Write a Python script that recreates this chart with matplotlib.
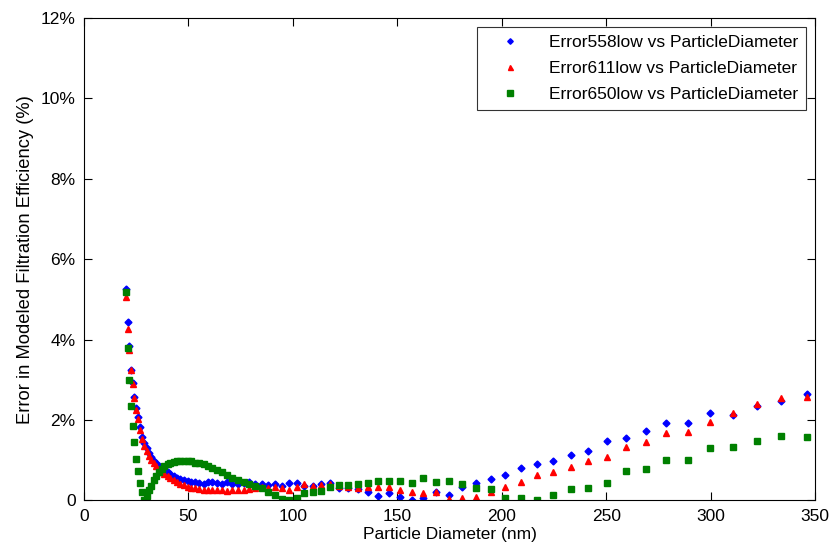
# imports
import matplotlib.pyplot as plt
from matplotlib.ticker import FixedLocator

# particle diameters (nm), SMPS channel midpoints
diameter = [20.2, 20.9, 21.7, 22.5, 23.3, 24.1, 25.0, 25.9, 26.9, 27.9,
            28.9, 30.0, 31.1, 32.2, 33.4, 34.6, 35.9, 37.2, 38.5, 40.0,
            41.4, 42.9, 44.5, 46.1, 47.8, 49.6, 51.4, 53.3, 55.2, 57.3,
            59.4, 61.5, 63.8, 66.1, 68.5, 71.0, 73.7, 76.4, 79.1, 82.0,
            85.1, 88.2, 91.4, 94.7, 98.2, 101.8, 105.5, 109.4, 113.4, 117.6,
            121.9, 126.3, 131.0, 135.8, 140.7, 145.9, 151.2, 156.8, 162.5, 168.5,
            174.7, 181.1, 187.7, 194.6, 201.7, 209.1, 216.7, 224.7, 232.9, 241.4,
            250.3, 259.5, 269.0, 278.8, 289.0, 299.6, 310.6, 322.0, 333.8, 346.0]

# error in modeled filtration efficiency (%)
error_558 = [5.27, 4.43, 3.85, 3.25, 2.92, 2.58, 2.30, 2.08, 1.82, 1.58,
             1.43, 1.30, 1.19, 1.09, 0.99, 0.92, 0.86, 0.81, 0.76, 0.71,
             0.66, 0.61, 0.57, 0.53, 0.50, 0.48, 0.46, 0.47, 0.44, 0.42,
             0.45, 0.47, 0.44, 0.42, 0.45, 0.40, 0.42, 0.44, 0.45, 0.42,
             0.40, 0.38, 0.40, 0.37, 0.43, 0.43, 0.37, 0.36, 0.40, 0.43,
             0.30, 0.30, 0.28, 0.21, 0.11, 0.18, 0.08, 0.02, 0.05, 0.21,
             0.14, 0.34, 0.43, 0.53, 0.63, 0.80, 0.91, 0.97, 1.14, 1.24,
             1.48, 1.55, 1.72, 1.93, 1.93, 2.17, 2.12, 2.36, 2.48, 2.65]

error_611 = [5.07, 4.26, 3.73, 3.25, 2.90, 2.55, 2.25, 2.02, 1.75, 1.52,
             1.35, 1.22, 1.10, 1.00, 0.92, 0.85, 0.78, 0.71, 0.65, 0.60,
             0.55, 0.50, 0.46, 0.42, 0.38, 0.34, 0.32, 0.30, 0.28, 0.27,
             0.26, 0.27, 0.25, 0.26, 0.24, 0.26, 0.25, 0.27, 0.29, 0.31,
             0.33, 0.30, 0.34, 0.30, 0.26, 0.33, 0.40, 0.36, 0.39, 0.41,
             0.36, 0.34, 0.30, 0.34, 0.33, 0.33, 0.26, 0.22, 0.18, 0.20,
             0.03, 0.05, 0.09, 0.20, 0.33, 0.47, 0.64, 0.70, 0.84, 0.98,
             1.08, 1.32, 1.46, 1.67, 1.70, 1.94, 2.17, 2.41, 2.55, 2.57]

error_650 = [5.19, 3.79, 3.00, 2.35, 1.84, 1.45, 1.03, 0.73, 0.43, 0.22,
             0.02, 0.12, 0.25, 0.36, 0.50, 0.62, 0.70, 0.79, 0.85, 0.90,
             0.93, 0.95, 0.97, 0.98, 0.99, 0.99, 0.97, 0.94, 0.92, 0.90,
             0.86, 0.82, 0.77, 0.70, 0.63, 0.57, 0.50, 0.45, 0.40, 0.35,
             0.30, 0.22, 0.14, 0.03, 0.01, 0.07, 0.18, 0.21, 0.24, 0.33,
             0.38, 0.39, 0.41, 0.44, 0.49, 0.49, 0.49, 0.43, 0.56, 0.45,
             0.49, 0.42, 0.32, 0.28, 0.07, 0.07, 0.01, 0.14, 0.28, 0.32,
             0.44, 0.73, 0.79, 1.00, 1.00, 1.31, 1.34, 1.48, 1.61, 1.58]

# tick labels
x_ticks = [0, 50, 100, 150, 200, 250, 300, 350]
y_ticks = [0, 2, 4, 6, 8, 10, 12]
y_tick_labels = ['0', '2%', '4%', '6%', '8%', '10%', '12%']

plt.rcParams['font.family'] = ['Liberation Sans', 'DejaVu Sans']
font_size = 12.5

fig = plt.figure(figsize=(8.31, 5.54), dpi=100)
ax = fig.add_axes([0.101, 0.0966, 0.880, 0.871])

# scatter series, matlab style markers
ax.plot(diameter, error_558, linestyle='none', marker='D', markersize=3.5,
        color='#0000ff', label='Error558low vs ParticleDiameter')
ax.plot(diameter, error_611, linestyle='none', marker='^', markersize=4.5,
        color='#ff0000', label='Error611low vs ParticleDiameter')
ax.plot(diameter, error_650, linestyle='none', marker='s', markersize=5,
        color='#008000', label='Error650low vs ParticleDiameter')

# axes limits and ticks
ax.set_xlim(0, 350)
ax.set_ylim(0, 12)
ax.xaxis.set_major_locator(FixedLocator(x_ticks))
ax.set_yticks(y_ticks)
ax.set_yticklabels(y_tick_labels)
ax.tick_params(direction='in', top=True, right=True, length=5.5, width=0.8,
               labelsize=font_size)
ax.tick_params(axis='x', pad=6)
ax.tick_params(axis='y', pad=6)
for spine in ax.spines.values():
    spine.set_linewidth(0.8)

# labels
ax.set_xlabel('Particle Diameter (nm)', fontsize=font_size, labelpad=2)
ax.set_ylabel('Error in Modeled Filtration Efficiency (%)', fontsize=13.2, labelpad=5)

# legend box
leg = ax.legend(loc='upper right', fontsize=font_size, frameon=True, fancybox=False,
                borderaxespad=0.55, handletextpad=0.8, handlelength=2.9,
                labelspacing=0.62, borderpad=0.45, markerscale=0.8)
leg.get_frame().set_edgecolor('black')
leg.get_frame().set_linewidth(0.8)

fig.savefig('out.png', dpi=100)
